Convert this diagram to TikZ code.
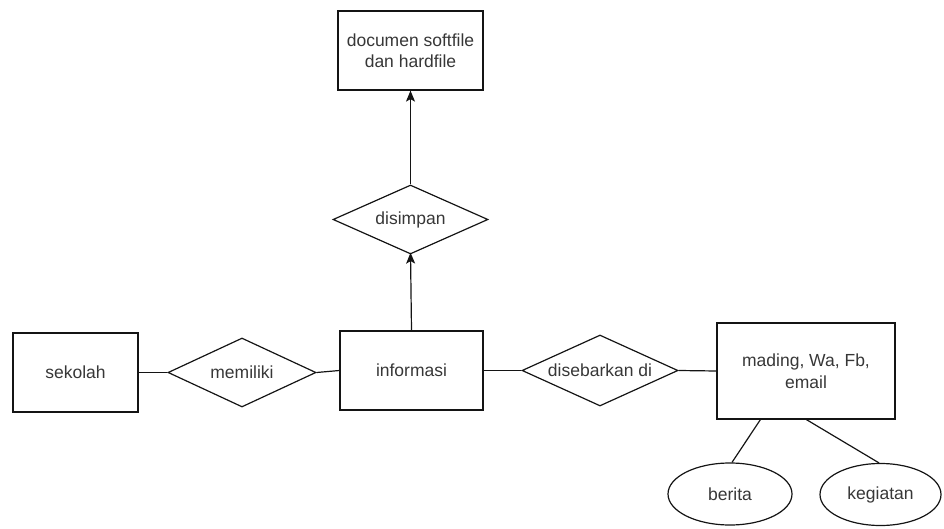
\documentclass[tikz,border=0pt]{standalone}
\usepackage{fontspec}
\setmainfont{Liberation Sans}
\usetikzlibrary{shapes.geometric,arrows.meta}
\definecolor{txt}{RGB}{55,55,55}
\definecolor{ln}{RGB}{20,20,20}
\begin{document}
\begin{tikzpicture}[x=1pt,y=-1pt,
  every node/.style={font=\fontsize{17.5}{21.5}\selectfont, text=txt},
  ent/.style={draw=ln, line width=1.2pt, rectangle, inner sep=0pt, align=center},
  rel/.style={draw=ln, line width=1.2pt, diamond, inner sep=1pt},
  attr/.style={draw=ln, line width=1.2pt, ellipse, inner sep=0pt},
  conn/.style={draw=ln, line width=1.2pt},
  arr/.style={conn, -{Stealth[length=11pt,width=9pt,inset=2.5pt]}}]
\useasboundingbox (0,0) rectangle (944,529);
\node[ent, minimum width=145pt, minimum height=79pt] (doc) at (410.5,50.5) {documen softfile\\dan hardfile};
\node[rel, minimum width=155pt, minimum height=69pt, aspect=2.25] (simpan) at (410.5,219.5) {disimpan};
\node[ent, minimum width=125pt, minimum height=79pt] (sekolah) at (75.5,372.5) {sekolah};
\node[rel, minimum width=148pt, minimum height=69pt, aspect=2.15] (milik) at (242,372.5) {memiliki};
\node[ent, minimum width=143pt, minimum height=79pt] (info) at (411.5,370.5) {informasi};
\node[rel, minimum width=156pt, minimum height=71pt, aspect=2.2] (sebar) at (600,370.5) {disebarkan di};
\node[ent, minimum width=178pt, minimum height=96pt] (mading) at (806,371) {mading, Wa, Fb,\\email};
\node[attr, minimum width=124pt, minimum height=62pt] (berita) at (730,494) {berita};
\node[attr, minimum width=121pt, minimum height=62pt] (kegiatan) at (880.5,494.5) {kegiatan};
\draw[arr] (simpan.north) -- (doc.south);
\draw[arr] (info.north) -- ([yshift=2pt]simpan.south);
\draw[conn] (sekolah.east) -- (milik.west);
\draw[conn] (milik.east) -- (info.west);
\draw[conn] (info.east) -- (sebar.west);
\draw[conn] (sebar.east) -- (mading.west);
\draw[conn] ([xshift=44pt]mading.south west) -- ([xshift=2pt]berita.north);
\draw[conn] ([xshift=90pt]mading.south west) -- ([xshift=-1.5pt]kegiatan.north);
\end{tikzpicture}
\end{document}
